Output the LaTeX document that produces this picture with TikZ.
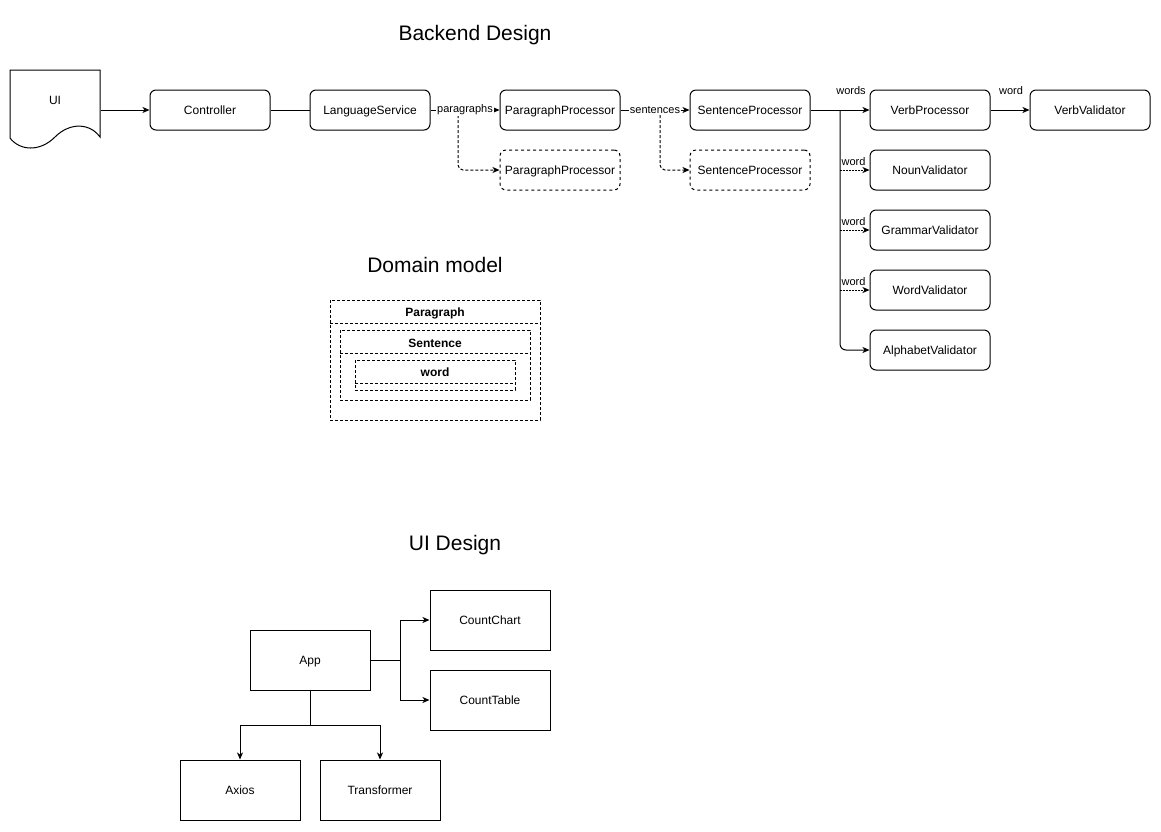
\documentclass[tikz,border=0pt]{standalone}
\usepackage{fontspec}
\setmainfont{Liberation Sans}
\usetikzlibrary{arrows.meta}
\begin{document}
\begin{tikzpicture}[x=1pt,y=-1pt,line width=1pt,
  font=\fontsize{12}{14}\selectfont,
  box/.style={draw,minimum width=120pt,minimum height=40pt,inner sep=0pt,text depth=0pt},
  rbox/.style={box,rounded corners=6pt},
  dbox/.style={rbox,dashed},
  sqbox/.style={draw,minimum width=120pt,minimum height=60pt,inner sep=0pt,text depth=0pt},
  arr/.style={-{Stealth[length=7pt,width=6pt,inset=2pt]}},
  elabel/.style={fill=white,inner sep=1pt,font=\fontsize{11}{13}\selectfont},
  tlabel/.style={inner sep=0pt,font=\fontsize{11}{13}\selectfont},
  title/.style={font=\fontsize{21}{25}\selectfont},
  dlink/.style={dash pattern=on 3pt off 2pt},
  wlink/.style={dash pattern=on 2pt off 1pt}]
\useasboundingbox[fill=white] (0,0) rectangle (1161,831);

% ---------------- Backend design ----------------
\node[title] (tb) at (475,35) {Backend Design};

% document-shaped UI box
\draw (10,70) -- (100,70) -- (100,137)
  .. controls (90,123) and (70,122) .. (55,137)
  .. controls (40,152) and (20,151) .. (10,138) -- cycle;
\node[minimum width=90pt,minimum height=80pt,inner sep=0pt] (ui) at (55,110) {};
\node (uit) at (55,100) {UI};

\node[rbox] (ctrl) at (210,110) {Controller};
\node[rbox] (lang) at (370,110) {LanguageService};
\node[rbox] (pp1) at (560,110) {ParagraphProcessor};
\node[dbox] (pp2) at (560,170) {ParagraphProcessor};
\node[rbox] (sp1) at (750,110) {SentenceProcessor};
\node[dbox] (sp2) at (750,170) {SentenceProcessor};
\node[rbox] (vp) at (930,110) {VerbProcessor};
\node[rbox] (vv) at (1090,110) {VerbValidator};
\node[rbox] (nv) at (930,170) {NounValidator};
\node[rbox] (gv) at (930,230) {GrammarValidator};
\node[rbox] (wv) at (930,290) {WordValidator};
\node[rbox] (av) at (930,350) {AlphabetValidator};

\draw[arr] (ui.east) -- (ctrl.west);
\draw (ctrl.east) -- (lang.west);

% branch points on the main line
\coordinate (bp) at (458,110);
\coordinate (bs) at (660,110);
\coordinate (bw) at (840,110);

\draw[arr,dlink,rounded corners=5pt] (bp) |- (pp2.west);
\draw[arr,dlink,rounded corners=5pt] (bs) |- (sp2.west);
\draw[arr] (lang.east) -- node[elabel] {paragraphs} (pp1.west);
\draw[arr] (pp1.east) -- node[elabel] {sentences} (sp1.west);

\draw[arr] (sp1.east) -- (vp.west);
\node[tlabel] (lw) at (851,91) {words};
\draw[arr,rounded corners=6pt] (bw) |- (av.west);
\draw[arr,wlink] (840,170) -- (nv.west);
\draw[arr,wlink] (840,230) -- (gv.west);
\draw[arr,wlink] (840,290) -- (wv.west);
\node[tlabel] (lw1) at (853.5,161.5) {word};
\node[tlabel] (lw2) at (853.5,221.5) {word};
\node[tlabel] (lw3) at (853.5,281.5) {word};

\draw[arr] (vp.east) -- (vv.west);
\node[tlabel] (lvv) at (1011,91) {word};

% ---------------- Domain model ----------------
\node[title] (td) at (435,265) {Domain model};
\begin{scope}[dlink]
  \draw (330,300) rectangle (540,420);
  \draw (330,323) -- (540,323);
  \draw (340,330) rectangle (530,400);
  \draw (340,353) -- (530,353);
  \draw (355,360) rectangle (515,390);
  \draw (355,383) -- (515,383);
\end{scope}
\node[font=\fontsize{12}{14}\selectfont\bfseries] (par) at (435,313) {Paragraph};
\node[font=\fontsize{12}{14}\selectfont\bfseries] (sen) at (435,343) {Sentence};
\node[font=\fontsize{12}{14}\selectfont\bfseries] (wrd) at (435,372.5) {word};

% ---------------- UI design ----------------
\node[title] (tu) at (455,545) {UI Design};
\node[sqbox] (app) at (310,660) {App};
\node[sqbox] (cc) at (490,620) {CountChart};
\node[sqbox] (ct) at (490,700) {CountTable};
\node[sqbox] (ax) at (240,790) {Axios};
\node[sqbox] (tr) at (380,790) {Transformer};

\draw[arr] (app.east) -- ++(30,0) |- (cc.west);
\draw[arr] (app.east) -- ++(30,0) |- (ct.west);
\draw[arr] (app.south) -- ++(0,35) -| (ax.north);
\draw[arr] (app.south) -- ++(0,35) -| (tr.north);
\end{tikzpicture}
\end{document}
